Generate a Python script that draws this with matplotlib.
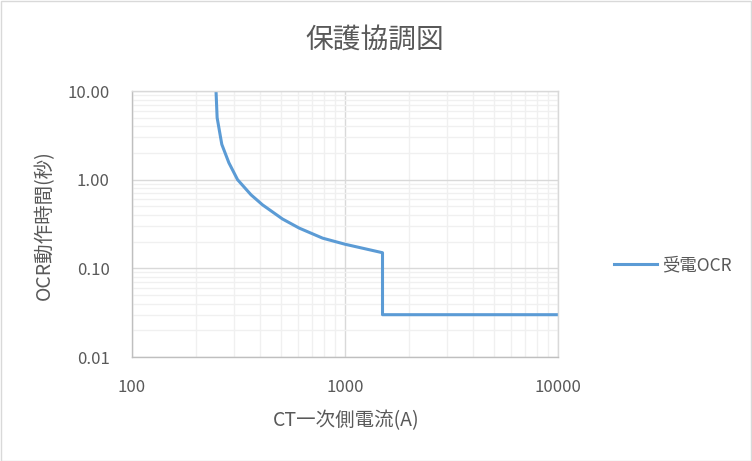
import matplotlib
matplotlib.use("Agg")
import matplotlib.pyplot as plt
from matplotlib.ticker import FixedLocator, NullFormatter, LogLocator

plt.rcParams['font.family'] = ['Noto Sans CJK JP', 'DejaVu Sans']

# Data
current_a = [248, 251, 264, 285, 313, 362, 410, 509, 610, 785, 1000, 1500, 1500, 10000]
time_s = [10.0, 5.0, 2.5, 1.55, 1.0, 0.675, 0.52, 0.36, 0.284, 0.219, 0.187, 0.15, 0.03, 0.03]
series_name = "受電OCR"
title = "保護協調図"
x_label = "CT一次側電流(A)"
y_label = "OCR動作時間(秒)"
x_ticks = [100, 1000, 10000]
x_tick_labels = ["100", "1000", "10000"]
y_ticks = [0.01, 0.1, 1, 10]
y_tick_labels = ["0.01", "0.10", "1.00", "10.00"]

W, H = 752, 461
fig = plt.figure(figsize=(W / 100, H / 100), dpi=100)
ax = fig.add_axes([132 / W, 1 - 357 / H, (558 - 132) / W, (357 - 91) / H])

ax.plot(current_a, time_s, color="#5b9bd5", linewidth=2.2, label=series_name,
        solid_joinstyle="round", clip_on=True)
ax.set_xscale("log")
ax.set_yscale("log")
ax.set_xlim(100, 10000)
ax.set_ylim(0.01, 10)

ax.set_xticks(x_ticks)
ax.set_xticklabels(x_tick_labels)
ax.set_yticks(y_ticks)
ax.set_yticklabels(y_tick_labels)
ax.xaxis.set_minor_locator(LogLocator(base=10, subs=range(2, 10), numticks=20))
ax.yaxis.set_minor_locator(LogLocator(base=10, subs=range(2, 10), numticks=20))
ax.xaxis.set_minor_formatter(NullFormatter())
ax.yaxis.set_minor_formatter(NullFormatter())

ax.grid(which="major", color="#d9d9d9", linewidth=1.0)
ax.grid(which="minor", color="#f0f0f0", linewidth=1.0)
ax.set_axisbelow(True)

ax.tick_params(which="both", length=0, colors="#595959", labelsize=12)
ax.tick_params(axis="x", pad=16)
ax.tick_params(axis="y", pad=16)

for side in ["top", "right"]:
    ax.spines[side].set_color("#d9d9d9")
for side in ["left", "bottom"]:
    ax.spines[side].set_color("#bfbfbf")
for s in ax.spines.values():
    s.set_linewidth(1.0)

fig.text(375 / W, 1 - 40 / H, title, ha="center", va="center",
         fontsize=20, color="#595959")
fig.text(346 / W, 1 - 421 / H, x_label, ha="center", va="center",
         fontsize=14, color="#595959")
fig.text(45 / W, 1 - 225 / H, y_label, ha="center", va="center",
         rotation=90, fontsize=14, color="#595959")

leg = fig.legend(loc="center left", bbox_to_anchor=(614 / W, 1 - 265 / H),
                 frameon=False, fontsize=12.5, handlelength=2.5,
                 handletextpad=0.25, borderaxespad=0, borderpad=0)
for t in leg.get_texts():
    t.set_color("#595959")

border = plt.Rectangle((0.5 / W, 0.5 / H), 1 - 1.5 / W, 1 - 1.5 / H,
                       transform=fig.transFigure, fill=False,
                       edgecolor="#d9d9d9", linewidth=1.0)
fig.patches.append(border)

fig.savefig("out.png", dpi=100)
